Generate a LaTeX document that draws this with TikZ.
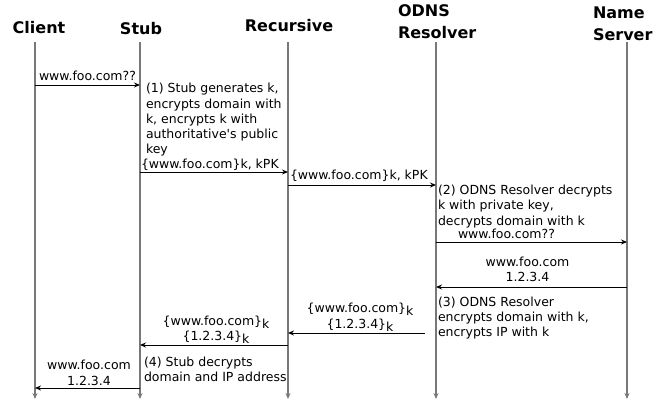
\documentclass[tikz,border=0pt]{standalone}
\usepackage{fontspec}
\setmainfont{DejaVu Sans}
\usetikzlibrary{arrows.meta}
\definecolor{lifegray}{RGB}{120,120,120}
\newcommand{\subk}{\raisebox{-0.45ex}{k}}
\begin{document}
\begin{tikzpicture}[x=1pt,y=-1pt,
  every node/.style={inner sep=0pt,outer sep=0pt},
  actor/.style={font=\fontsize{16}{21.7}\selectfont\bfseries,align=left},
  lifeline/.style={draw=lifegray,line width=1.5pt,
    -{Stealth[length=6pt,width=5pt]}},
  msg/.style={draw=black,line width=0.9pt,
    -{Stealth[length=6pt,width=5pt]}},
  msgtext/.style={font=\fontsize{12.5}{15.2}\selectfont,align=center},
  note/.style={font=\fontsize{12.5}{15.1}\selectfont,align=left,anchor=base west}]
\useasboundingbox (0,0) rectangle (668,401);

% participants (multi-line nodes are anchored at their last baseline)
\node[actor,anchor=base] (hclient) at (39,34) {Client};
\node[actor,anchor=base] (hstub) at (141,34.3) {Stub};
\node[actor,anchor=base] (hrec) at (289,31.7) {Recursive};
\node[actor,anchor=base west] (hodns) at (398,38.3) {ODNS\\Resolver};
\node[actor,anchor=base west] (hns) at (593,40.7) {Name\\Server};

% lifelines
\coordinate (cT) at (35,42.5);  \coordinate (cB) at (35,399);
\coordinate (sT) at (140,42.5); \coordinate (sB) at (140,399);
\coordinate (rT) at (288,42.5); \coordinate (rB) at (288,399);
\coordinate (oT) at (436,42.5); \coordinate (oB) at (436,399);
\coordinate (nT) at (627,42.5); \coordinate (nB) at (627,399);
\foreach \l in {c,s,r,o,n} \draw[lifeline] (\l T) -- (\l B);

% query path
\draw[msg] (cT |- 0,85) -- (sT |- 0,85);
\node[msgtext,anchor=base west] (l1) at (39,81) {www.foo.com??};
\node[note] (n1) at (146,153.3) {(1) Stub generates k,\\encrypts domain with\\k, encrypts k with\\authoritative\textquotesingle s public\\key};

\draw[msg] (sT |- 0,172) -- (rT |- 0,172);
\node[msgtext,anchor=base west] (l2) at (141,168) {\{www.foo.com\}k, kPK};

\draw[msg] (rT |- 0,185) -- (oT |- 0,185);
\node[msgtext,anchor=base west] (l3) at (290,179) {\{www.foo.com\}k, kPK};
\node[note] (n2) at (438,225) {(2) ODNS Resolver decrypts\\k with private key,\\decrypts domain with k};

\draw[msg] (oT |- 0,242) -- (nT |- 0,242);
\node[msgtext,anchor=base west] (l4) at (458,238) {www.foo.com??};

% answer path
\draw[msg] (nT |- 0,287) -- (oT |- 0,287);
\node[msgtext,anchor=base] (l5) at (527.5,281.5) {www.foo.com\\1.2.3.4};
\node[note] (n3) at (438,336.5) {(3) ODNS Resolver\\encrypts domain with k,\\encrypts IP with k};

\coordinate (o6) at (425,333);
\draw[msg] (o6) -- (rT |- o6);
\node[msgtext,anchor=base] (l6) at (360,328) {\{www.foo.com\}\subk\\\{1.2.3.4\}\subk};

\draw[msg] (rT |- 0,345) -- (sT |- 0,345);
\node[msgtext,anchor=base] (l7) at (216,340.7) {\{www.foo.com\}\subk\\\{1.2.3.4\}\subk};
\node[note] (n4) at (144,381.7) {(4) Stub decrypts\\domain and IP address};

\draw[msg] (sT |- 0,388) -- (cT |- 0,388);
\node[msgtext,anchor=base] (l8) at (89,385) {www.foo.com\\1.2.3.4};
\end{tikzpicture}
\end{document}
